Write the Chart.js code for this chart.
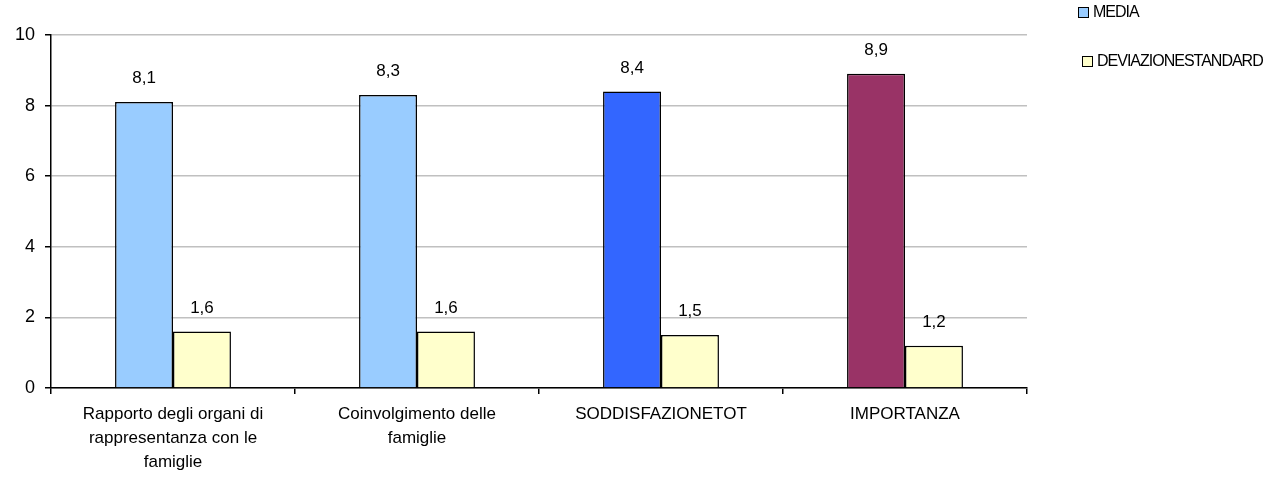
<!DOCTYPE html>
<html>
<head>
<meta charset="utf-8">
<script src="https://cdn.jsdelivr.net/npm/chart.js@4"></script>
<style>
  html, body { margin: 0; padding: 0; background: #fff; }
  #wrap { width: 1267px; height: 482px; }
</style>
</head>
<body>
<div id="wrap"><canvas id="chart" width="1267" height="482"></canvas></div>
<script>
var categories = [
  ["Rapporto degli organi di", "rappresentanza con le", "famiglie"],
  ["Coinvolgimento delle", "famiglie"],
  "SODDISFAZIONETOT",
  "IMPORTANZA"
];
var media = [8.1, 8.3, 8.4, 8.9];
var deviazione = [1.6, 1.6, 1.5, 1.2];
var yTicks = [0, 2, 4, 6, 8, 10];

var mediaColors = ["#99ccff", "#99ccff", "#3366ff", "#993366"];
var devColor = "#ffffcc";
var font = "Liberation Sans, Arial, sans-serif";

// etichette sopra le barre, con la virgola
var valueLabels = {
  id: "valueLabels",
  afterDatasetsDraw: function(chart) {
    var ctx = chart.ctx;
    ctx.save();
    ctx.font = "17px " + font;
    ctx.fillStyle = "#000";
    ctx.textAlign = "center";
    ctx.textBaseline = "bottom";
    chart.data.datasets.forEach(function(ds, i) {
      chart.getDatasetMeta(i).data.forEach(function(bar, j) {
        ctx.fillText(String(ds.data[j]).replace(".", ","), bar.x, bar.y - 15);
      });
    });
    ctx.restore();
  }
};

// legenda in alto a destra
var sideLegend = {
  id: "sideLegend",
  afterDraw: function(chart) {
    var ctx = chart.ctx;
    var items = [
      { text: "MEDIA", fill: "#99ccff", x: 1078, y: 7 },
      { text: "DEVIAZIONESTANDARD", fill: devColor, x: 1082, y: 56 }
    ];
    ctx.save();
    ctx.font = "16px " + font;
    ctx.letterSpacing = "-1px";
    ctx.textBaseline = "middle";
    items.forEach(function(it) {
      ctx.fillStyle = it.fill;
      ctx.fillRect(it.x, it.y, 11, 11);
      ctx.strokeStyle = "#000";
      ctx.lineWidth = 1;
      ctx.strokeRect(it.x + 0.5, it.y + 0.5, 10, 10);
      ctx.fillStyle = "#000";
      ctx.fillText(it.text, it.x + 15, it.y + 6);
    });
    ctx.restore();
  }
};

new Chart(document.getElementById("chart"), {
  type: "bar",
  data: {
    labels: categories,
    datasets: [
      {
        label: "MEDIA",
        data: media,
        backgroundColor: mediaColors,
        borderColor: "#000",
        borderWidth: 1.5
      },
      {
        label: "DEVIAZIONESTANDARD",
        data: deviazione,
        backgroundColor: devColor,
        borderColor: "#000",
        borderWidth: 1.5
      }
    ]
  },
  options: {
    responsive: false,
    animation: false,
    layout: { padding: { top: 35, right: 240, left: 0, bottom: 0 } },
    datasets: {
      bar: { barPercentage: 1, categoryPercentage: 0.475 }
    },
    plugins: {
      legend: { display: false },
      tooltip: { enabled: false }
    },
    scales: {
      x: {
        afterFit: function(scale) { scale.height = 94; },
        grid: {
          offset: true,
          drawOnChartArea: false,
          color: "#000",
          tickLength: 6,
          lineWidth: 1.5
        },
        border: { color: "#000", width: 1.5 },
        ticks: {
          color: "#000",
          font: { family: font, size: 17, lineHeight: "24px" },
          maxRotation: 0,
          autoSkip: false,
          padding: 8
        }
      },
      y: {
        min: 0,
        max: 10,
        afterFit: function(scale) { scale.width = 51; },
        afterBuildTicks: function(scale) {
          scale.ticks = yTicks.map(function(v) { return { value: v }; });
        },
        grid: {
          color: "#c0c0c0",
          tickColor: "#000",
          tickLength: 6,
          lineWidth: 1.5
        },
        border: { color: "#000", width: 1.5 },
        ticks: {
          color: "#000",
          font: { family: font, size: 18 },
          padding: 10
        }
      }
    }
  },
  plugins: [valueLabels, sideLegend]
});
</script>
</body>
</html>
